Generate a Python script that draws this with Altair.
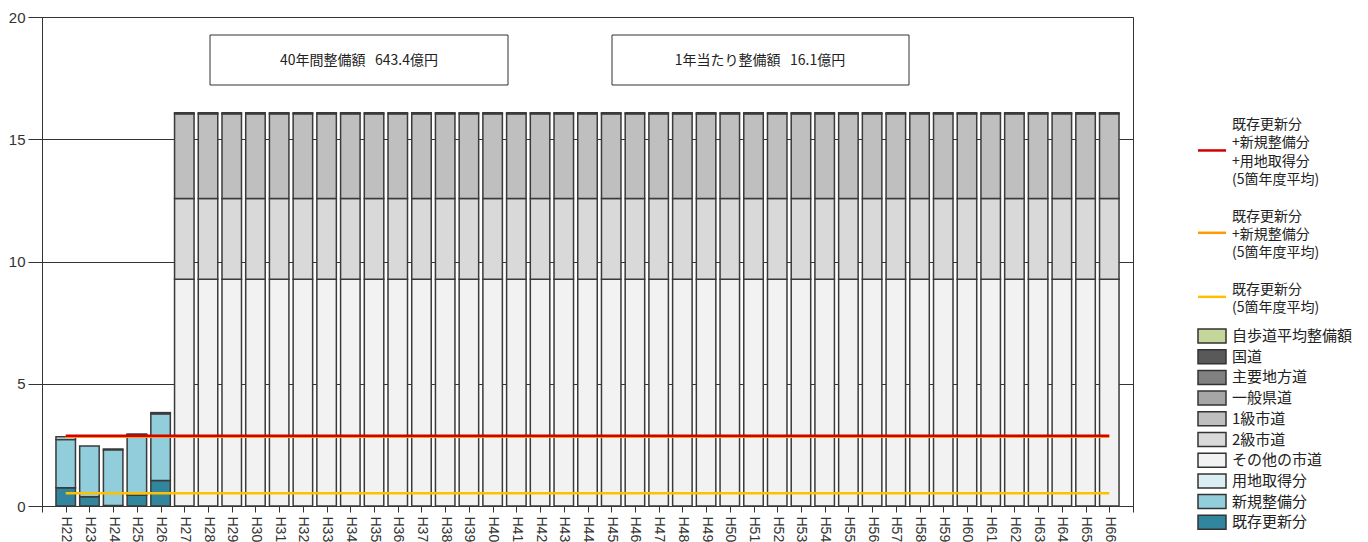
import altair as alt
import pandas as pd

# Fiscal years (Heisei) shown on the x axis
fiscal_years = list(range(22, 67))          # H22 .. H66
actual_years = [22, 23, 24, 25, 26]         # recorded spending
forecast_years = list(range(27, 67))        # projected renewal spending

# Recorded spending (100 million yen)
existing_renewal = [0.75, 0.38, 0.02, 0.44, 1.04]
new_construction = [1.97, 2.07, 2.28, 2.48, 2.73]
land_acquisition = [0.11, 0.00, 0.03, 0.02, 0.05]

# Projected yearly renewal cost by road class (100 million yen)
other_city_roads = 9.27
class2_city_roads = 3.31
class1_city_roads = 3.46
general_pref_roads = 0.045

# Stack categories (legend order, top to bottom) and fills
categories = ["自歩道平均整備額", "国道", "主要地方道", "一般県道", "1級市道",
              "2級市道", "その他の市道", "用地取得分", "新規整備分", "既存更新分"]
fills = ["#C4D79B", "#595959", "#808080", "#A6A6A6", "#BFBFBF",
         "#D9D9D9", "#F2F2F2", "#DAEEF3", "#92CDDC", "#31859C"]

# Five-year average lines (label lines separated by '|')
line_series = ["既存更新分|+新規整備分|+用地取得分|(5箇年度平均)",
               "既存更新分|+新規整備分|(5箇年度平均)",
               "既存更新分|(5箇年度平均)"]
line_colors = ["#D00000", "#FF9900", "#FFC000"]

total_40y = 643.4
per_year = 16.1

# ---- build tables -------------------------------------------------------
stack_rank = {c: len(categories) - i for i, c in enumerate(categories)}
rows = []
for yr, e, n, l in zip(actual_years, existing_renewal, new_construction, land_acquisition):
    for cat, v in (("既存更新分", e), ("新規整備分", n), ("用地取得分", l)):
        if v > 0:
            rows.append({"year": yr, "category": cat, "value": v, "rank": stack_rank[cat]})
for yr in forecast_years:
    for cat, v in (("その他の市道", other_city_roads), ("2級市道", class2_city_roads),
                   ("1級市道", class1_city_roads), ("一般県道", general_pref_roads)):
        rows.append({"year": yr, "category": cat, "value": v, "rank": stack_rank[cat]})
bars_df = pd.DataFrame(rows)

n = len(actual_years)
avg_all = sum(e + nw + l for e, nw, l in zip(existing_renewal, new_construction, land_acquisition)) / n
avg_en = sum(e + nw for e, nw in zip(existing_renewal, new_construction)) / n
avg_e = sum(existing_renewal) / n
lines_df = pd.DataFrame({
    "series": line_series,
    "value": [avg_all, avg_en, avg_e],
    "start": [fiscal_years[0]] * 3,
    "end": [fiscal_years[-1]] * 3,
    "rank": [1, 2, 3],
})

x_scale = alt.Scale(domain=[fiscal_years[0] - 1, fiscal_years[-1] + 1], nice=False, zero=False, padding=0)
y_scale = alt.Scale(domain=[0, 20], nice=False)

x_axis = alt.Axis(
    values=list(range(fiscal_years[0] - 1, fiscal_years[-1] + 2)),
    labelExpr=f"datum.value >= {fiscal_years[0]} && datum.value <= {fiscal_years[-1]} ? 'H' + datum.value : ''",
    labelAngle=90, labelFontSize=14, labelFont="Liberation Sans", labelColor="#333333",
    labelPadding=4, tickSize=6, grid=False, title=None, labelOverlap=False, labelFlush=False,
)
y_axis = alt.Axis(values=[0, 5, 10, 15, 20], grid=True, tickSize=14, labelFontSize=15,
                  labelFont="Liberation Sans", labelColor="#333333", labelPadding=3, title=None)

bars = alt.Chart(bars_df).mark_bar(size=19.5, stroke="#3a3a3a", strokeWidth=1.5).encode(
    x=alt.X("year:Q", scale=x_scale, axis=x_axis),
    y=alt.Y("value:Q", stack="zero", scale=y_scale, axis=y_axis),
    fill=alt.Fill("category:N", scale=alt.Scale(domain=categories, range=fills),
                  legend=alt.Legend(
                      orient="none", legendX=1162, legendY=311, title=None, padding=0,
                      symbolType="M-2,-1H2V1H-2Z", symbolSize=196,
                      symbolStrokeColor="#333333", symbolStrokeWidth=1.5,
                      symbolOpacity=1,
                      labelFontSize=15, labelFont="Noto Sans CJK JP", labelColor="#222222",
                      labelOffset=12, rowPadding=0.7, labelLimit=200,
                  )),
    order=alt.Order("rank:Q", sort="ascending"),
)

lines = alt.Chart(lines_df).mark_rule(strokeWidth=2.5).encode(
    x=alt.X("start:Q", scale=x_scale, axis=x_axis),
    x2="end:Q",
    y=alt.Y("value:Q", scale=y_scale, axis=y_axis),
    stroke=alt.Stroke("series:N", scale=alt.Scale(domain=line_series, range=line_colors), legend=None),
    order=alt.Order("rank:Q", sort="descending"),
)

# ---- legend for the average lines (multi-line labels) --------------------
legend_layers = []
line_h = 18.3
first_line_y = 108
row = 0
for label, color in zip(line_series, line_colors):
    parts = label.split("|")
    ys = [first_line_y + (row + k) * line_h for k in range(len(parts))]
    sym_y = sum(ys) / len(ys) - 2
    key_df = pd.DataFrame({"series": [label]})
    legend_layers.append(
        alt.Chart(key_df).mark_rule(strokeWidth=2.5, color=color).encode(
            x=alt.value(1156), x2=alt.value(1184), y=alt.value(sym_y))
    )
    for part, yy in zip(parts, ys):
        legend_layers.append(
            alt.Chart(pd.DataFrame({"t": [part]})).mark_text(
                align="left", baseline="middle", fontSize=14,
                font="Noto Sans CJK JP", color="#222222",
            ).encode(x=alt.value(1190), y=alt.value(yy), text="t:N")
        )
    row += len(parts) + 1

# ---- summary boxes -------------------------------------------------------
gap = "\u00a0\u00a0\u00a0"
notes_df = pd.DataFrame({
    "text": [f"{len(forecast_years)}年間整備額{gap}{total_40y}億円", f"1年当たり整備額{gap}{per_year}億円"],
})
box1 = alt.Chart(notes_df.iloc[[0]]).mark_rect(fill="white", stroke="#333333", strokeWidth=1).encode(
    x=alt.value(168), x2=alt.value(466), y=alt.value(18), y2=alt.value(68))
box2 = alt.Chart(notes_df.iloc[[1]]).mark_rect(fill="white", stroke="#333333", strokeWidth=1).encode(
    x=alt.value(570), x2=alt.value(867), y=alt.value(18), y2=alt.value(68))
text1 = alt.Chart(notes_df.iloc[[0]]).mark_text(fontSize=14, font="Noto Sans CJK JP", color="#222222").encode(
    x=alt.value(317), y=alt.value(44), text="text:N")
text2 = alt.Chart(notes_df.iloc[[1]]).mark_text(fontSize=14, font="Noto Sans CJK JP", color="#222222").encode(
    x=alt.value(718), y=alt.value(44), text="text:N")

chart = alt.layer(bars, lines, box1, box2, text1, text2, *legend_layers).resolve_scale(
    x="shared", y="shared"
).properties(
    width=1091, height=489,
    autosize=alt.AutoSizeParams(type="none"),
    padding={"left": 42, "top": 17, "right": 235, "bottom": 36},
    background="white",
).configure_view(
    stroke="#333333", strokeWidth=1
).configure_axis(
    domainColor="#333333", tickColor="#333333", gridColor="#333333", gridWidth=1,
    domainWidth=1, tickWidth=1, gridOpacity=1,
)

chart.save("out.html", embed_options={"renderer": "svg", "actions": False})
